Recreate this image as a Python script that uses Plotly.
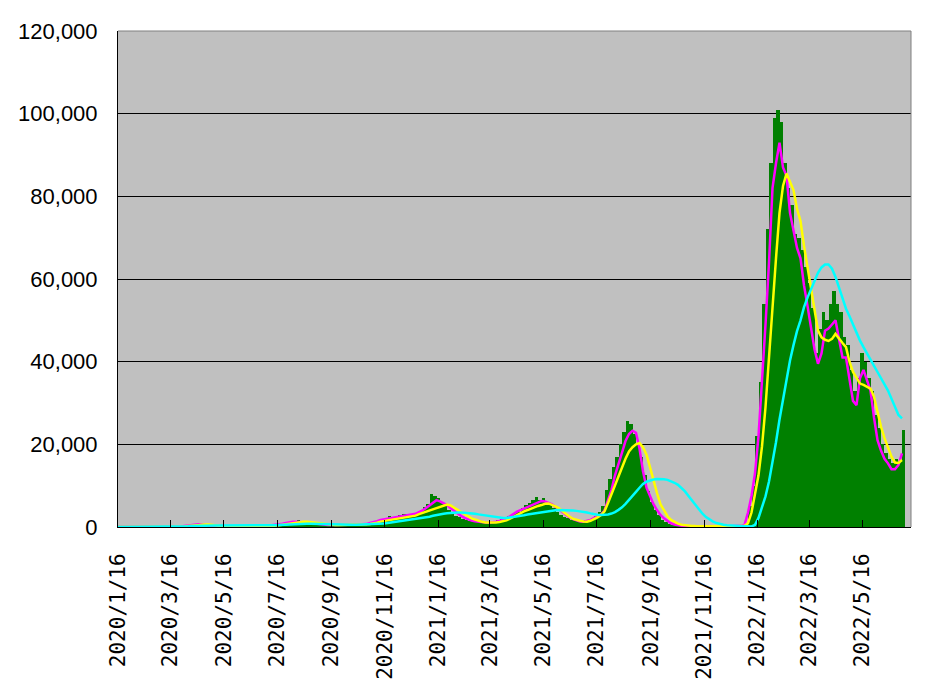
import pandas as pd
import plotly.graph_objects as go

# daily new cases, sampled every 4 days from 2020/1/16
start = "2020-01-16"
step_days = 4

cases = [
    0, 0, 1, 2, 2, 3, 1, 5, 8, 15,
    20, 15, 30, 40, 50, 20, 40, 70, 200, 260,
    380, 580, 460, 580, 390, 350, 200, 200, 90, 60,
    50, 30, 30, 40, 50, 45, 40, 50, 40, 70,
    80, 110, 190, 200, 430, 330, 660, 800, 840, 1500,
    1300, 1650, 1100, 1200, 1050, 800, 850, 600, 580, 500,
    600, 480, 500, 480, 520, 550, 500, 650, 600, 450,
    700, 600, 800, 900, 1200, 1500, 1700, 2600, 2300, 2700,
    2800, 3100, 3100, 3000, 3300, 3500, 3800, 4800, 5500, 7900,
    7500, 7100, 5800, 5000, 4100, 3300, 2700, 2400, 1900, 1600,
    1400, 1200, 1100, 1100, 1050, 1200, 1300, 1500, 1700, 1850,
    2300, 2600, 2900, 3300, 3700, 4500, 5300, 5800, 6500, 7300,
    6500, 6900, 6000, 5500, 4700, 3700, 3000, 2500, 2100, 1800,
    1600, 1500, 1400, 1600, 1700, 2200, 2700, 3700, 5000, 9000,
    11500, 14500, 17000, 20000, 23000, 25600, 24800, 22500, 20000, 17000,
    12500, 8700, 6000, 4000, 2800, 1800, 1200, 800, 500, 400,
    350, 250, 250, 200, 180, 150, 120, 140, 120, 120,
    100, 130, 150, 130, 170, 170, 300, 400, 500, 1000,
    5000, 10000, 22000, 35000, 54000, 72000, 88000, 99000, 101000, 98000,
    88000, 82000, 78000, 71000, 70000, 67000, 63000, 59000, 53000, 42000,
    48000, 52000, 50000, 54000, 57000, 54000, 52000, 46000, 44000, 38000,
    33000, 36000, 42000, 40000, 36000, 33000, 27000, 24000, 20000, 18000,
    16500, 15500, 16500, 16000, 23400,
]

# magenta line
avg_short = [
    0, 0, 1, 1, 2, 2, 3, 4, 6, 10,
    15, 15, 20, 30, 40, 40, 45, 60, 120, 220,
    350, 480, 560, 650, 560, 420, 300, 200, 120, 70,
    50, 35, 35, 40, 40, 40, 45, 45, 50, 60,
    80, 100, 170, 250, 400, 480, 600, 780, 1000, 1200,
    1300, 1300, 1200, 1050, 950, 850, 750, 620, 560, 520,
    500, 490, 480, 480, 500, 520, 540, 560, 590, 580,
    600, 700, 1000, 1150, 1400, 1700, 1850, 2000, 2150, 2250,
    2300, 2450, 2600, 2750, 2900, 3200, 3600, 4000, 4600, 5200,
    5800, 6500, 6200, 5800, 5300, 4600, 3900, 3300, 2700, 2200,
    1800, 1550, 1400, 1250, 1150, 1100, 1050, 1100, 1250, 1450,
    1750, 2100, 2600, 3200, 3700, 4100, 4500, 4900, 5300, 5700,
    6100, 6300, 6200, 5900, 5500, 4900, 4200, 3500, 2800, 2300,
    1900, 1600, 1350, 1300, 1450, 1700, 2200, 2600, 3000, 4000,
    6500, 9000, 12500, 15000, 18000, 20800, 22500, 23300, 22800, 19000,
    13500, 9500, 7300, 5500, 4100, 2900, 2100, 1400, 900, 600,
    400, 300, 250, 220, 200, 180, 160, 150, 140, 130,
    120, 110, 110, 120, 130, 140, 160, 200, 280, 500,
    3500, 7500, 13000, 22000, 35000, 49000, 64000, 82000, 88000, 93000,
    87000, 85000, 76000, 72000, 67500, 65000, 58500, 53500, 48000, 43000,
    39500, 42000, 47500, 48000, 49000, 50000, 45500, 41000, 41000, 35500,
    30500, 29500, 36000, 38000, 35500, 33000, 26500, 21000, 18500, 16500,
    15400, 14000, 14000, 15000, 17800,
]

# yellow line
avg_mid = [
    0, 0, 0, 1, 1, 2, 2, 3, 4, 6,
    9, 12, 15, 20, 25, 30, 38, 50, 80, 140,
    220, 320, 420, 520, 600, 620, 580, 450, 300, 180,
    110, 75, 55, 45, 40, 40, 40, 42, 45, 50,
    60, 75, 110, 150, 210, 290, 400, 520, 650, 790,
    950, 1100, 1250, 1300, 1300, 1200, 1100, 1000, 850, 700,
    600, 540, 500, 490, 490, 500, 520, 540, 560, 580,
    590, 650, 750, 850, 1050, 1300, 1450, 1600, 1750, 1850,
    1950, 2100, 2250, 2400, 2500, 2750, 3100, 3400, 3700, 4000,
    4400, 4700, 4900, 5200, 5450, 5200, 4700, 4100, 3600, 3000,
    2500, 2100, 1800, 1500, 1250, 1100, 1050, 1050, 1100, 1200,
    1400, 1600, 2000, 2500, 3000, 3400, 3800, 4100, 4500, 4800,
    5100, 5300, 5600, 5700, 5400, 5000, 4500, 3800, 3100, 2500,
    2000, 1700, 1500, 1350, 1300, 1500, 1900, 2300, 2900, 3800,
    5800, 8000, 10000, 12500, 14500, 16500, 18300, 19300, 20000, 20300,
    19300, 17500, 14500, 11000, 8200, 5500, 4000, 2600, 1700, 1200,
    800, 550, 400, 300, 260, 220, 200, 180, 160, 140,
    130, 120, 120, 125, 130, 140, 150, 170, 210, 300,
    900, 3500, 8000, 12500, 19500, 29000, 41000, 54000, 65000, 76000,
    82500, 85500, 83500, 81500, 77000, 74000, 68000, 63000, 58000, 53500,
    47500, 45900, 45300, 45000, 45500, 46700, 45500, 44500, 43500, 40000,
    37500, 36000, 34700, 34400, 34000, 33500, 31500, 27500, 24300, 21500,
    19200, 17000, 15600, 15500, 16200,
]

# cyan line
avg_long = [
    0, 0, 0, 0, 0, 1, 1, 1, 2, 2,
    3, 4, 5, 7, 10, 12, 15, 25, 60, 120,
    180, 240, 280, 310, 330, 340, 350, 350, 350, 350,
    350, 340, 330, 320, 310, 300, 300, 300, 300, 300,
    300, 310, 330, 360, 400, 450, 500, 560, 620, 680,
    740, 780, 800, 800, 790, 770, 740, 700, 660, 620,
    600, 580, 570, 560, 560, 560, 560, 560, 570, 580,
    590, 600, 620, 650, 690, 740, 820, 950, 1080, 1200,
    1280, 1350, 1450, 1570, 1700, 1850, 2000, 2150, 2320, 2500,
    2700, 2900, 3050, 3200, 3300, 3400, 3480, 3500, 3500, 3450,
    3400, 3300, 3200, 3050, 2900, 2750, 2650, 2500, 2350, 2250,
    2150, 2200, 2300, 2450, 2550, 2700, 2850, 3000, 3150, 3250,
    3400, 3550, 3700, 3800, 3900, 4050, 4100, 4100, 4100, 4050,
    4000, 3900, 3800, 3650, 3500, 3300, 3100, 2950, 2900, 2950,
    3050, 3250, 3600, 4150, 4750, 5600, 6500, 7500, 8500, 9500,
    10400, 10950, 11300, 11500, 11600, 11600, 11550, 11400, 11100, 10700,
    10200, 9500, 8600, 7500, 6400, 5300, 4200, 3200, 2400, 1800,
    1300, 950, 700, 550, 430, 350, 280, 230, 200, 200,
    200, 150, 500, 2200, 4800, 7400, 11000, 15500, 20500, 26000,
    31000, 35500, 40300, 44000, 47400, 50000, 53200, 55500, 57500, 59800,
    61500, 62800, 63500, 63500, 62500, 60500, 58000, 55000, 52800, 51000,
    49000, 46800, 45100, 43500, 41900, 40600, 39000, 37500, 35800, 34500,
    33000, 31000, 29300, 27100, 26300,
]

tick_dates = [
    "2020-01-16", "2020-03-16", "2020-05-16", "2020-07-16", "2020-09-16",
    "2020-11-16", "2021-01-16", "2021-03-16", "2021-05-16", "2021-07-16",
    "2021-09-16", "2021-11-16", "2022-01-16", "2022-03-16", "2022-05-16",
]
tick_labels = [
    "2020/1/16", "2020/3/16", "2020/5/16", "2020/7/16", "2020/9/16",
    "2020/11/16", "2021/1/16", "2021/3/16", "2021/5/16", "2021/7/16",
    "2021/9/16", "2021/11/16", "2022/1/16", "2022/3/16", "2022/5/16",
]

dates = pd.date_range(start, periods=len(cases), freq=f"{step_days}D")
day_ms = 86400000

xfont = dict(family="DejaVu Sans Mono", size=21, color="black")
yfont = dict(family="Liberation Sans", size=22, color="black")

fig = go.Figure()
fig.add_trace(go.Bar(
    x=dates, y=cases,
    width=step_days * day_ms, offset=0,
    marker=dict(color="#008000", line=dict(width=0)),
))
fig.add_trace(go.Scatter(x=dates, y=avg_short, mode="lines",
                         line=dict(color="#FF00FF", width=2.5)))
fig.add_trace(go.Scatter(x=dates, y=avg_mid, mode="lines",
                         line=dict(color="#FFFF00", width=2.5)))
fig.add_trace(go.Scatter(x=dates, y=avg_long, mode="lines",
                         line=dict(color="#00FFFF", width=2.5)))

# the page body adds an 8px offset, so the figure is a bit smaller
fig.update_layout(
    width=933, height=686,
    margin=dict(l=110, r=30, t=23, b=167),
    paper_bgcolor="white",
    plot_bgcolor="#C0C0C0",
    showlegend=False,
    bargap=0,
    xaxis=dict(
        type="date",
        range=[start, "2022-07-10 07:00:00"],
        tickmode="array", tickvals=tick_dates, ticktext=tick_labels,
        tickangle=-90, tickfont=xfont,
        ticks="inside", ticklen=7, tickcolor="black",
        showgrid=False, zeroline=False,
        showline=True, linecolor="black", linewidth=1,
        ticklabelstandoff=17, automargin=False,
    ),
    yaxis=dict(
        range=[0, 120000],
        tickvals=list(range(0, 120001, 20000)),
        tickformat=",", tickfont=yfont,
        showgrid=True, gridcolor="black", gridwidth=1,
        zeroline=False,
        showline=True, linecolor="black", linewidth=1,
        ticklabelstandoff=15, automargin=False,
    ),
    shapes=[
        dict(type="line", xref="paper", yref="paper", x0=0, x1=1, y0=1, y1=1,
             line=dict(color="#808080", width=1)),
        dict(type="line", xref="paper", yref="paper", x0=1, x1=1, y0=0, y1=1,
             line=dict(color="#808080", width=1)),
    ],
)

fig.write_html("out.html")
